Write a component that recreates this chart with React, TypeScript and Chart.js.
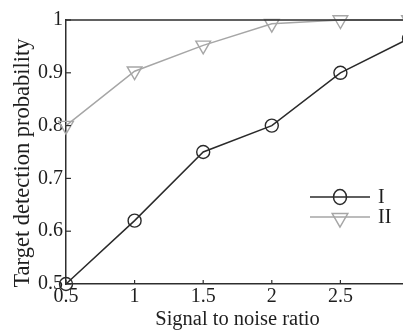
import React, { useEffect, useRef } from "react";
import { Chart, registerables } from "chart.js";

Chart.register(...registerables);

// ---- data ----
const snrValues = [0.5, 1, 1.5, 2, 2.5, 3];
const seriesI = [0.5, 0.62, 0.75, 0.8, 0.9, 0.965];
const seriesII = [0.8, 0.903, 0.952, 0.993, 1.0, 1.0];
const seriesLabels = ["I", "II"];
const xTitle = "Signal to noise ratio";
const yTitle = "Target detection probability";

const FONT = "'Liberation Serif', 'Times New Roman', serif";
const DARK = "#2a2a2a";
const LIGHT = "#a6a6a6";
const AXIS = "#2e2e2e";
const TEXT = "#1e1e1e";

const CANVAS_W = 440;
const CANVAS_H = 350;

const fmt = (v: any) => String(Number(Number(v).toFixed(2)));

function drawDownTriangle(ctx: CanvasRenderingContext2D, x: number, y: number, r: number) {
  const s = Math.sin(Math.PI / 3) * r;
  ctx.beginPath();
  ctx.moveTo(x, y + r);
  ctx.lineTo(x - s, y - r / 2);
  ctx.lineTo(x + s, y - r / 2);
  ctx.closePath();
  ctx.stroke();
}

const decorPlugin = {
  id: "decor",
  afterDraw(chart: any) {
    const { ctx, chartArea, scales } = chart;
    const { left, right, top, bottom } = chartArea;
    ctx.save();
    ctx.strokeStyle = AXIS;
    ctx.lineWidth = 1.5;
    ctx.beginPath();
    ctx.moveTo(left, top);
    ctx.lineTo(right, top);
    ctx.lineTo(right, bottom);
    ctx.stroke();
    ctx.lineWidth = 1.2;
    scales.x.ticks.forEach((t: any) => {
      const px = scales.x.getPixelForValue(t.value);
      ctx.beginPath();
      ctx.moveTo(px, bottom);
      ctx.lineTo(px, bottom - 4);
      ctx.stroke();
    });
    scales.y.ticks.forEach((t: any) => {
      const py = scales.y.getPixelForValue(t.value);
      ctx.beginPath();
      ctx.moveTo(left, py);
      ctx.lineTo(left + 5, py);
      ctx.stroke();
    });

    // y-axis title (placed like the reference, slightly below the axis centre)
    ctx.save();
    ctx.translate(23, (top + bottom) / 2 + 11);
    ctx.rotate(-Math.PI / 2);
    ctx.font = `22.5px ${FONT}`;
    ctx.fillStyle = TEXT;
    ctx.textAlign = "center";
    ctx.textBaseline = "middle";
    ctx.fillText(yTitle, 0, 0);
    ctx.restore();

    // legend
    const lx0 = right - 99;
    const lx1 = right - 39;
    const mx = (lx0 + lx1) / 2;
    const rows = [top + 177, top + 197];
    const dsets = chart.data.datasets;
    ctx.font = `20px ${FONT}`;
    ctx.textBaseline = "middle";
    ctx.textAlign = "left";
    dsets.forEach((ds: any, i: number) => {
      const y = rows[i];
      ctx.strokeStyle = ds.borderColor;
      ctx.lineWidth = 1.5;
      ctx.beginPath();
      ctx.moveTo(lx0, y);
      ctx.lineTo(lx1, y);
      ctx.stroke();
      if (ds.pointStyle === "circle") {
        ctx.beginPath();
        ctx.ellipse(mx, y, 6.5, 7.5, 0, 0, Math.PI * 2);
        ctx.stroke();
      } else {
        drawDownTriangle(ctx, mx, y + 1, 9);
      }
      ctx.fillStyle = TEXT;
      ctx.fillText(ds.label, lx1 + 8, y + 1);
    });
    ctx.restore();
  },
};

export default function App() {
  const ref = useRef<HTMLCanvasElement | null>(null);

  useEffect(() => {
    if (!ref.current) return;
    const chart = new Chart(ref.current, {
      type: "line",
      data: {
        datasets: [
          {
            label: seriesLabels[0],
            data: snrValues.map((x, i) => ({ x, y: seriesI[i] })),
            borderColor: DARK,
            borderWidth: 1.5,
            pointStyle: "circle",
            pointRadius: 6.5,
            pointBorderColor: DARK,
            pointBackgroundColor: "transparent",
            pointBorderWidth: 1.4,
            tension: 0,
            clip: false,
          },
          {
            label: seriesLabels[1],
            data: snrValues.map((x, i) => ({ x, y: seriesII[i] })),
            borderColor: LIGHT,
            borderWidth: 1.5,
            pointStyle: "triangle",
            pointRotation: 180,
            pointRadius: 8.5,
            pointBorderColor: LIGHT,
            pointBackgroundColor: "transparent",
            pointBorderWidth: 1.4,
            tension: 0,
            clip: false,
          },
        ] as any,
      },
      options: {
        animation: false,
        responsive: false,
        devicePixelRatio: 1,
        layout: { padding: { left: 0, top: 20, right: 31, bottom: 0 }, autoPadding: false } as any,
        plugins: { legend: { display: false }, tooltip: { enabled: false } },
        scales: {
          x: {
            type: "linear",
            position: "bottom",
            min: 0.5,
            max: 3,
            ticks: {
              stepSize: 0.5,
              autoSkip: false,
              maxRotation: 0,
              padding: 1,
              color: TEXT,
              font: { family: FONT, size: 20 },
              callback: fmt,
            },
            grid: { display: false, drawTicks: false },
            border: { display: true, color: AXIS, width: 1.5 },
            title: {
              display: true,
              text: xTitle,
              color: TEXT,
              font: { family: FONT, size: 20.5 },
              padding: { top: 0, bottom: 18 },
            },
            afterFit: (s: any) => {
              s.height = 66;
            },
          },
          y: {
            type: "linear",
            min: 0.5,
            max: 1,
            ticks: {
              stepSize: 0.1,
              padding: 3,
              color: TEXT,
              font: { family: FONT, size: 20 },
              callback: fmt,
            },
            grid: { display: false, drawTicks: false },
            border: { display: true, color: AXIS, width: 1.5 },
            title: { display: false, text: yTitle },
            afterFit: (s: any) => {
              s.width = 66;
            },
          },
        },
      } as any,
      plugins: [decorPlugin],
    });
    return () => chart.destroy();
  }, []);

  return (
    <div
      style={{
        position: "fixed",
        left: 0,
        top: 0,
        width: 403,
        height: 330,
        overflow: "hidden",
        background: "#fff",
      }}
    >
      <canvas ref={ref} width={CANVAS_W} height={CANVAS_H} style={{ display: "block" }} />
    </div>
  );
}
